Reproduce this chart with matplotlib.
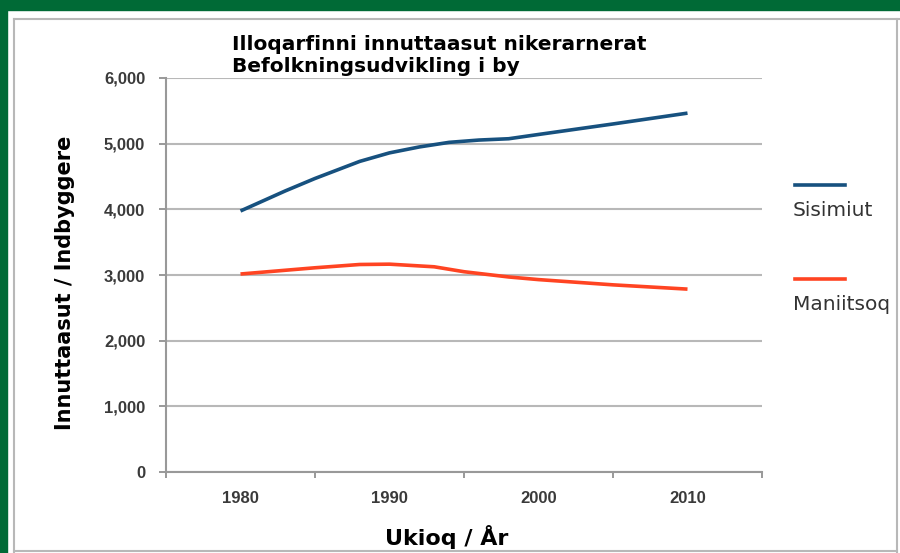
import matplotlib.pyplot as plt
from matplotlib.lines import Line2D
from matplotlib.patches import Rectangle

# data
years_sis = [1980, 1983, 1985, 1988, 1990, 1992, 1994, 1996, 1998, 2000, 2005, 2010]
sisimiut = [3975, 4280, 4470, 4730, 4860, 4950, 5020, 5055, 5075, 5140, 5300, 5465]
years_man = [1980, 1985, 1988, 1990, 1993, 1995, 1998, 2000, 2005, 2010]
maniitsoq = [3015, 3110, 3160, 3165, 3125, 3050, 2970, 2930, 2850, 2785]
year_labels = [1980, 1990, 2000, 2010]
y_ticks = [0, 1000, 2000, 3000, 4000, 5000, 6000]
series_names = ["Sisimiut", "Maniitsoq"]

BLUE = "#17517f"
RED = "#ff4422"
GREEN = "#006a36"
W, H = 900, 553

fig = plt.figure(figsize=(9, 5.53), dpi=100)
fig.patch.set_facecolor("white")


def px(x, y):
    # pixel coords (top-left origin) -> figure fraction
    return x / W, 1 - y / H


# frame around the chart
fig.add_artist(Rectangle((0, 1 - 10 / H), 1, 10 / H, transform=fig.transFigure,
                         color=GREEN, zorder=0))
fig.add_artist(Rectangle((0, 0), 7 / W, 1, transform=fig.transFigure,
                         color=GREEN, zorder=0))
for xs, ys in [((14, 900), (19, 19)), ((14, 14), (19, 553)),
               ((897, 897), (19, 553)), ((14, 897), (551, 551))]:
    fig.add_artist(Line2D([x / W for x in xs], [1 - y / H for y in ys],
                          transform=fig.transFigure, color="#b8b8b8", lw=1.5))

ax = fig.add_axes([166 / W, 1 - 472 / H, (762 - 166) / W, (472 - 78) / H])
ax.plot(years_sis, sisimiut, color=BLUE, lw=2.6, solid_capstyle="butt")
ax.plot(years_man, maniitsoq, color=RED, lw=2.6, solid_capstyle="butt")

ax.set_xlim(1975, 2015)
ax.set_ylim(0, 6000)
ax.set_yticks(y_ticks)
ax.set_yticklabels([f"{v:,}" if v else "0" for v in y_ticks])
ax.set_xticks(year_labels)
ax.set_xticklabels([str(y) for y in year_labels])
ax.set_xticks([1975, 1985, 1995, 2005, 2015], minor=True)
ax.tick_params(axis="x", which="major", length=0, pad=14)
ax.tick_params(axis="x", which="minor", length=4, color="#888888", width=1.2)
ax.tick_params(axis="y", length=5, color="#888888", width=1.2, pad=10)
for lab in ax.get_xticklabels() + ax.get_yticklabels():
    lab.set_family("Liberation Sans")
    lab.set_fontweight("bold")
    lab.set_fontsize(12)
    lab.set_color("#3a3a3a")

ax.grid(axis="y", color="#b8b8b8", lw=1.5)
ax.set_axisbelow(True)
for s in ["top", "right"]:
    ax.spines[s].set_visible(False)
for s in ["left", "bottom"]:
    ax.spines[s].set_color("#999999")
    ax.spines[s].set_linewidth(1.5)

fig.text(*px(65, 283), "Innuttaasut / Indbyggere", fontsize=15,
         fontweight="bold", rotation=90, va="center", ha="center")
fig.text(*px(447, 537), "Ukioq / År", fontsize=16, fontweight="bold",
         va="center", ha="center")

fig.text(*px(232, 45), "Illoqarfinni innuttaasut nikerarnerat", fontsize=14.5,
         fontweight="bold", va="center", ha="left")
fig.text(*px(232, 67), "Befolkningsudvikling i by", fontsize=14.5,
         fontweight="bold", va="center", ha="left")

# legend drawn by hand, placed like the original
for (ly, ty), name, col in zip([(185, 210), (279, 305)], series_names, [BLUE, RED]):
    fig.add_artist(Line2D([795 / W, 845 / W], [1 - ly / H] * 2,
                          transform=fig.transFigure, color=col, lw=2.6))
    fig.text(*px(793, ty), name, fontsize=14.5, color="#333333",
             va="center", ha="left")

fig.savefig("out.png", dpi=100)
